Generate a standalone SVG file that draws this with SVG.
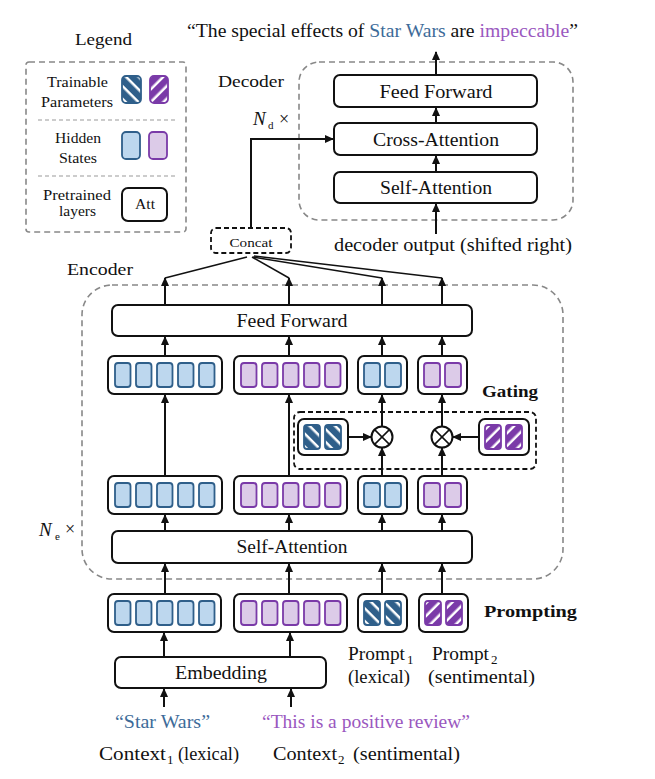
<svg xmlns="http://www.w3.org/2000/svg" width="655" height="779" viewBox="0 0 655 779">
<style>
text{font-family:"Liberation Serif","Times New Roman",serif;fill:#111}
.box{fill:#fff;stroke:#111;stroke-width:2}
.cb{fill:#bdd7ee;stroke:#2f5f8a;stroke-width:1.8}
.cp{fill:#dccbe8;stroke:#7a3aa8;stroke-width:1.8}
.hb{fill:url(#hatchB);stroke:#2f5f8a;stroke-width:1.8}
.hp{fill:url(#hatchP);stroke:#7a3aa8;stroke-width:1.8}
.dash{fill:none;stroke:#888;stroke-width:1.6;stroke-dasharray:6 4}
.kdash{fill:none;stroke:#111;stroke-width:1.8;stroke-dasharray:5 3}
.ln{fill:none;stroke:#111;stroke-width:2}
.arr{fill:none;stroke:#111;stroke-width:2;marker-end:url(#ah)}
.ln1{fill:none;stroke:#111;stroke-width:1.5}
.t18{font-size:18px}
.bold{font-weight:bold;font-size:17px}
</style>
<defs>
<marker id="ah" viewBox="0 0 10 10" refX="9" refY="5" markerWidth="9" markerHeight="9" markerUnits="userSpaceOnUse" orient="auto"><path d="M0,0.5 L10,5 L0,9.5 z" fill="#111"/></marker>
<pattern id="hatchB" patternUnits="userSpaceOnUse" width="9" height="9" patternTransform="rotate(-45)"><rect width="9" height="9" fill="#fff"/><rect width="6.5" height="9" fill="#2f5f8a"/></pattern>
<pattern id="hatchP" patternUnits="userSpaceOnUse" width="9" height="9" patternTransform="rotate(45)"><rect width="9" height="9" fill="#fff"/><rect width="6.5" height="9" fill="#7a3aa8"/></pattern>
</defs>

<!-- Title -->
<text id="title" x="187" y="37" font-size="18" textLength="391" lengthAdjust="spacingAndGlyphs">“The special effects of <tspan fill="#3d6b99">Star Wars</tspan> are <tspan fill="#9a58c0">impeccable</tspan>”</text>

<!-- Legend -->
<g id="legend">
<text x="75" y="45" font-size="17" textLength="57" lengthAdjust="spacingAndGlyphs">Legend</text>
<rect x="26" y="62" width="160" height="170" rx="3" class="dash"/>
<line x1="38" y1="120" x2="175" y2="120" stroke="#999" stroke-width="1" stroke-dasharray="4 3"/>
<line x1="38" y1="176" x2="175" y2="176" stroke="#999" stroke-width="1" stroke-dasharray="4 3"/>
<text x="47" y="87" font-size="14.5" textLength="61" lengthAdjust="spacingAndGlyphs">Trainable</text>
<text x="41" y="107" font-size="14.5" textLength="72" lengthAdjust="spacingAndGlyphs">Parameters</text>
<rect x="122" y="76" width="19" height="27" rx="4" class="hb"/>
<rect x="150" y="76" width="18" height="27" rx="4" class="hp"/>
<text x="55" y="143" font-size="14.5" textLength="46" lengthAdjust="spacingAndGlyphs">Hidden</text>
<text x="59" y="163" font-size="14.5" textLength="38" lengthAdjust="spacingAndGlyphs">States</text>
<rect x="122" y="132" width="18" height="27" rx="4" class="cb"/>
<rect x="149" y="132" width="18" height="27" rx="4" class="cp"/>
<text x="43" y="200" font-size="14.5" textLength="68" lengthAdjust="spacingAndGlyphs">Pretrained</text>
<text x="59" y="216" font-size="14.5" textLength="37" lengthAdjust="spacingAndGlyphs">layers</text>
<rect x="122" y="188" width="45" height="33" rx="6" class="box"/>
<text x="135" y="209" font-size="15" textLength="20" lengthAdjust="spacingAndGlyphs">Att</text>
</g>

<!-- Decoder -->
<g id="decoder">
<text x="218" y="87" font-size="17" textLength="66" lengthAdjust="spacingAndGlyphs">Decoder</text>
<rect x="299" y="62" width="274" height="158" rx="20" class="dash"/>
<text x="253" y="125" font-size="19" font-style="italic">N</text>
<text x="268" y="129" font-size="11">d</text>
<text x="279" y="125" font-size="18">×</text>
</g>
<g id="dec-ff"><rect x="334" y="75" width="203" height="32" rx="6" class="box"/><text x="436" y="98" class="t18" text-anchor="middle" textLength="113" lengthAdjust="spacingAndGlyphs">Feed Forward</text></g>
<g id="dec-ca"><rect x="334" y="123" width="203" height="32" rx="6" class="box"/><text x="436" y="146" class="t18" text-anchor="middle" textLength="126" lengthAdjust="spacingAndGlyphs">Cross-Attention</text></g>
<g id="dec-sa"><rect x="334" y="172" width="203" height="31" rx="6" class="box"/><text x="436" y="194" class="t18" text-anchor="middle" textLength="112" lengthAdjust="spacingAndGlyphs">Self-Attention</text></g>
<text id="dec-input" x="334" y="251" class="t18" textLength="238" lengthAdjust="spacingAndGlyphs">decoder output (shifted right)</text>

<!-- Concat -->
<g id="concat"><rect x="211" y="228" width="80" height="25" rx="5" class="kdash"/><text x="251" y="247" font-size="13" text-anchor="middle" textLength="43" lengthAdjust="spacingAndGlyphs">Concat</text></g>

<!-- Encoder -->
<g id="encoder">
<text x="67" y="275" font-size="17" textLength="66" lengthAdjust="spacingAndGlyphs">Encoder</text>
<rect x="82" y="285" width="481" height="294" rx="30" class="dash"/>
<text x="39" y="536" font-size="19" font-style="italic">N</text>
<text x="55" y="540" font-size="11">e</text>
<text x="65" y="535" font-size="18">×</text>
</g>
<g id="enc-ff"><rect x="112" y="305" width="360" height="31" rx="6" class="box"/><text x="292" y="327" class="t18" text-anchor="middle" textLength="111" lengthAdjust="spacingAndGlyphs">Feed Forward</text></g>
<g id="enc-sa"><rect x="112" y="531" width="360" height="32" rx="6" class="box"/><text x="292" y="553" class="t18" text-anchor="middle" textLength="111" lengthAdjust="spacingAndGlyphs">Self-Attention</text></g>

<!-- Upper hidden row -->
<g id="up-ctx1"><rect x="108" y="356" width="114" height="38" rx="6" class="box"/>
<rect x="115" y="363" width="15.5" height="24" rx="3" class="cb"/><rect x="136" y="363" width="15.5" height="24" rx="3" class="cb"/><rect x="157" y="363" width="15.5" height="24" rx="3" class="cb"/><rect x="178" y="363" width="15.5" height="24" rx="3" class="cb"/><rect x="199" y="363" width="15.5" height="24" rx="3" class="cb"/></g>
<g id="up-ctx2"><rect x="234" y="356" width="113" height="38" rx="6" class="box"/>
<rect x="241" y="363" width="15.5" height="24" rx="3" class="cp"/><rect x="262" y="363" width="15.5" height="24" rx="3" class="cp"/><rect x="283" y="363" width="15.5" height="24" rx="3" class="cp"/><rect x="304" y="363" width="15.5" height="24" rx="3" class="cp"/><rect x="325" y="363" width="15.5" height="24" rx="3" class="cp"/></g>
<g id="up-p1"><rect x="358" y="356" width="49" height="38" rx="6" class="box"/>
<rect x="364" y="363" width="16" height="24" rx="3" class="cb"/><rect x="385" y="363" width="16" height="24" rx="3" class="cb"/></g>
<g id="up-p2"><rect x="418" y="356" width="49" height="38" rx="6" class="box"/>
<rect x="424" y="363" width="16" height="24" rx="3" class="cp"/><rect x="445" y="363" width="16" height="24" rx="3" class="cp"/></g>

<!-- Lower hidden row -->
<g id="lo-ctx1"><rect x="108" y="476" width="114" height="38" rx="6" class="box"/>
<rect x="115" y="483" width="15.5" height="24" rx="3" class="cb"/><rect x="136" y="483" width="15.5" height="24" rx="3" class="cb"/><rect x="157" y="483" width="15.5" height="24" rx="3" class="cb"/><rect x="178" y="483" width="15.5" height="24" rx="3" class="cb"/><rect x="199" y="483" width="15.5" height="24" rx="3" class="cb"/></g>
<g id="lo-ctx2"><rect x="234" y="476" width="113" height="38" rx="6" class="box"/>
<rect x="241" y="483" width="15.5" height="24" rx="3" class="cp"/><rect x="262" y="483" width="15.5" height="24" rx="3" class="cp"/><rect x="283" y="483" width="15.5" height="24" rx="3" class="cp"/><rect x="304" y="483" width="15.5" height="24" rx="3" class="cp"/><rect x="325" y="483" width="15.5" height="24" rx="3" class="cp"/></g>
<g id="lo-p1"><rect x="358" y="476" width="49" height="38" rx="6" class="box"/>
<rect x="364" y="483" width="16" height="24" rx="3" class="cb"/><rect x="385" y="483" width="16" height="24" rx="3" class="cb"/></g>
<g id="lo-p2"><rect x="418" y="476" width="49" height="38" rx="6" class="box"/>
<rect x="424" y="483" width="16" height="24" rx="3" class="cp"/><rect x="445" y="483" width="16" height="24" rx="3" class="cp"/></g>

<!-- Gating -->
<g id="gating">
<rect x="294" y="412" width="242" height="57" rx="6" class="kdash"/>
<text x="482" y="397" class="bold" textLength="56" lengthAdjust="spacingAndGlyphs">Gating</text>
</g>
<g id="gate-p1"><rect x="298" y="419" width="50" height="36" rx="6" class="box"/>
<rect x="304" y="425" width="16" height="24" rx="3" class="hb"/><rect x="325" y="425" width="16" height="24" rx="3" class="hb"/></g>
<g id="gate-p2"><rect x="479" y="419" width="50" height="36" rx="6" class="box"/>
<rect x="485" y="425" width="16" height="24" rx="3" class="hp"/><rect x="506" y="425" width="16" height="24" rx="3" class="hp"/></g>
<g id="mul1"><circle cx="382" cy="437" r="10.5" class="box"/><path d="M374.6,429.6 L389.4,444.4 M389.4,429.6 L374.6,444.4" class="ln1"/></g>
<g id="mul2"><circle cx="442" cy="437" r="10.5" class="box"/><path d="M434.6,429.6 L449.4,444.4 M449.4,429.6 L434.6,444.4" class="ln1"/></g>

<!-- Input row -->
<g id="in-ctx1"><rect x="108" y="594" width="113" height="38" rx="6" class="box"/>
<rect x="115" y="601" width="15.5" height="24" rx="3" class="cb"/><rect x="136" y="601" width="15.5" height="24" rx="3" class="cb"/><rect x="157" y="601" width="15.5" height="24" rx="3" class="cb"/><rect x="178" y="601" width="15.5" height="24" rx="3" class="cb"/><rect x="199" y="601" width="15.5" height="24" rx="3" class="cb"/></g>
<g id="in-ctx2"><rect x="234" y="594" width="113" height="38" rx="6" class="box"/>
<rect x="241" y="601" width="15.5" height="24" rx="3" class="cp"/><rect x="262" y="601" width="15.5" height="24" rx="3" class="cp"/><rect x="283" y="601" width="15.5" height="24" rx="3" class="cp"/><rect x="304" y="601" width="15.5" height="24" rx="3" class="cp"/><rect x="325" y="601" width="15.5" height="24" rx="3" class="cp"/></g>
<g id="in-p1"><rect x="358" y="594" width="49" height="38" rx="6" class="box"/>
<rect x="364" y="601" width="16" height="24" rx="3" class="hb"/><rect x="385" y="601" width="16" height="24" rx="3" class="hb"/></g>
<g id="in-p2"><rect x="419" y="594" width="49" height="38" rx="6" class="box"/>
<rect x="425" y="601" width="16" height="24" rx="3" class="hp"/><rect x="446" y="601" width="16" height="24" rx="3" class="hp"/></g>
<text id="prompting" x="484" y="617" class="bold" textLength="93" lengthAdjust="spacingAndGlyphs">Prompting</text>

<g id="embedding"><rect x="115" y="657" width="211" height="31" rx="6" class="box"/><text x="221" y="679" class="t18" text-anchor="middle" textLength="92" lengthAdjust="spacingAndGlyphs">Embedding</text></g>

<!-- Labels -->
<g id="labels">
<text x="348" y="660" class="t18" textLength="57" lengthAdjust="spacingAndGlyphs">Prompt</text><text x="407" y="664" font-size="13">1</text>
<text x="348" y="683" class="t18" textLength="62" lengthAdjust="spacingAndGlyphs">(lexical)</text>
<text x="432" y="660" class="t18" textLength="57" lengthAdjust="spacingAndGlyphs">Prompt</text><text x="491" y="664" font-size="13">2</text>
<text x="428" y="683" class="t18" textLength="107" lengthAdjust="spacingAndGlyphs">(sentimental)</text>
<text x="115" y="728" class="t18" style="fill:#3d6b99" textLength="95" lengthAdjust="spacingAndGlyphs">“Star Wars”</text>
<text x="262" y="728" class="t18" style="fill:#9a58c0" textLength="208" lengthAdjust="spacingAndGlyphs">“This is a positive review”</text>
<text x="99" y="760" class="t18" textLength="67" lengthAdjust="spacingAndGlyphs">Context</text><text x="167" y="764" font-size="13">1</text>
<text x="178" y="760" class="t18" textLength="61" lengthAdjust="spacingAndGlyphs">(lexical)</text>
<text x="273" y="760" class="t18" textLength="64" lengthAdjust="spacingAndGlyphs">Context</text><text x="338" y="764" font-size="13">2</text>
<text x="353" y="760" class="t18" textLength="107" lengthAdjust="spacingAndGlyphs">(sentimental)</text>
</g>

<!-- Connectors -->
<g id="connectors">
<line x1="436" y1="75" x2="436" y2="52" class="arr"/>
<line x1="436" y1="123" x2="436" y2="108" class="arr"/>
<line x1="436" y1="172" x2="436" y2="156" class="arr"/>
<line x1="436" y1="234" x2="436" y2="204" class="arr"/>
<polyline points="251,228 251,139 333,139" class="arr"/>
<line x1="165" y1="305" x2="165" y2="278" class="arr"/>
<line x1="289" y1="305" x2="289" y2="278" class="arr"/>
<line x1="382" y1="305" x2="382" y2="278" class="arr"/>
<line x1="442" y1="305" x2="442" y2="278" class="arr"/>
<line x1="165" y1="278" x2="247" y2="257" class="ln1"/>
<line x1="289" y1="278" x2="252" y2="257" class="ln1"/>
<line x1="382" y1="278" x2="253" y2="257" class="ln1"/>
<line x1="442" y1="278" x2="254" y2="256" class="ln1"/>
<line x1="165" y1="356" x2="165" y2="337" class="arr"/>
<line x1="289" y1="356" x2="289" y2="337" class="arr"/>
<line x1="382" y1="356" x2="382" y2="337" class="arr"/>
<line x1="442" y1="356" x2="442" y2="337" class="arr"/>
<line x1="165" y1="476" x2="165" y2="395" class="arr"/>
<line x1="289" y1="476" x2="289" y2="395" class="arr"/>
<line x1="382" y1="426.5" x2="382" y2="395" class="arr"/>
<line x1="442" y1="426.5" x2="442" y2="395" class="arr"/>
<line x1="382" y1="476" x2="382" y2="448" class="arr"/>
<line x1="442" y1="476" x2="442" y2="448" class="arr"/>
<line x1="348" y1="437" x2="371" y2="437" class="arr"/>
<line x1="479" y1="437" x2="453" y2="437" class="arr"/>
<line x1="165" y1="531" x2="165" y2="515" class="arr"/>
<line x1="289" y1="531" x2="289" y2="515" class="arr"/>
<line x1="382" y1="531" x2="382" y2="515" class="arr"/>
<line x1="442" y1="531" x2="442" y2="515" class="arr"/>
<line x1="165" y1="594" x2="165" y2="564" class="arr"/>
<line x1="289" y1="594" x2="289" y2="564" class="arr"/>
<line x1="382" y1="594" x2="382" y2="564" class="arr"/>
<line x1="442" y1="594" x2="442" y2="564" class="arr"/>
<line x1="164" y1="657" x2="164" y2="633" class="arr"/>
<line x1="290" y1="657" x2="290" y2="633" class="arr"/>
<line x1="164" y1="707" x2="164" y2="689" class="arr"/>
<line x1="291" y1="707" x2="291" y2="689" class="arr"/>
</g>
</svg>
